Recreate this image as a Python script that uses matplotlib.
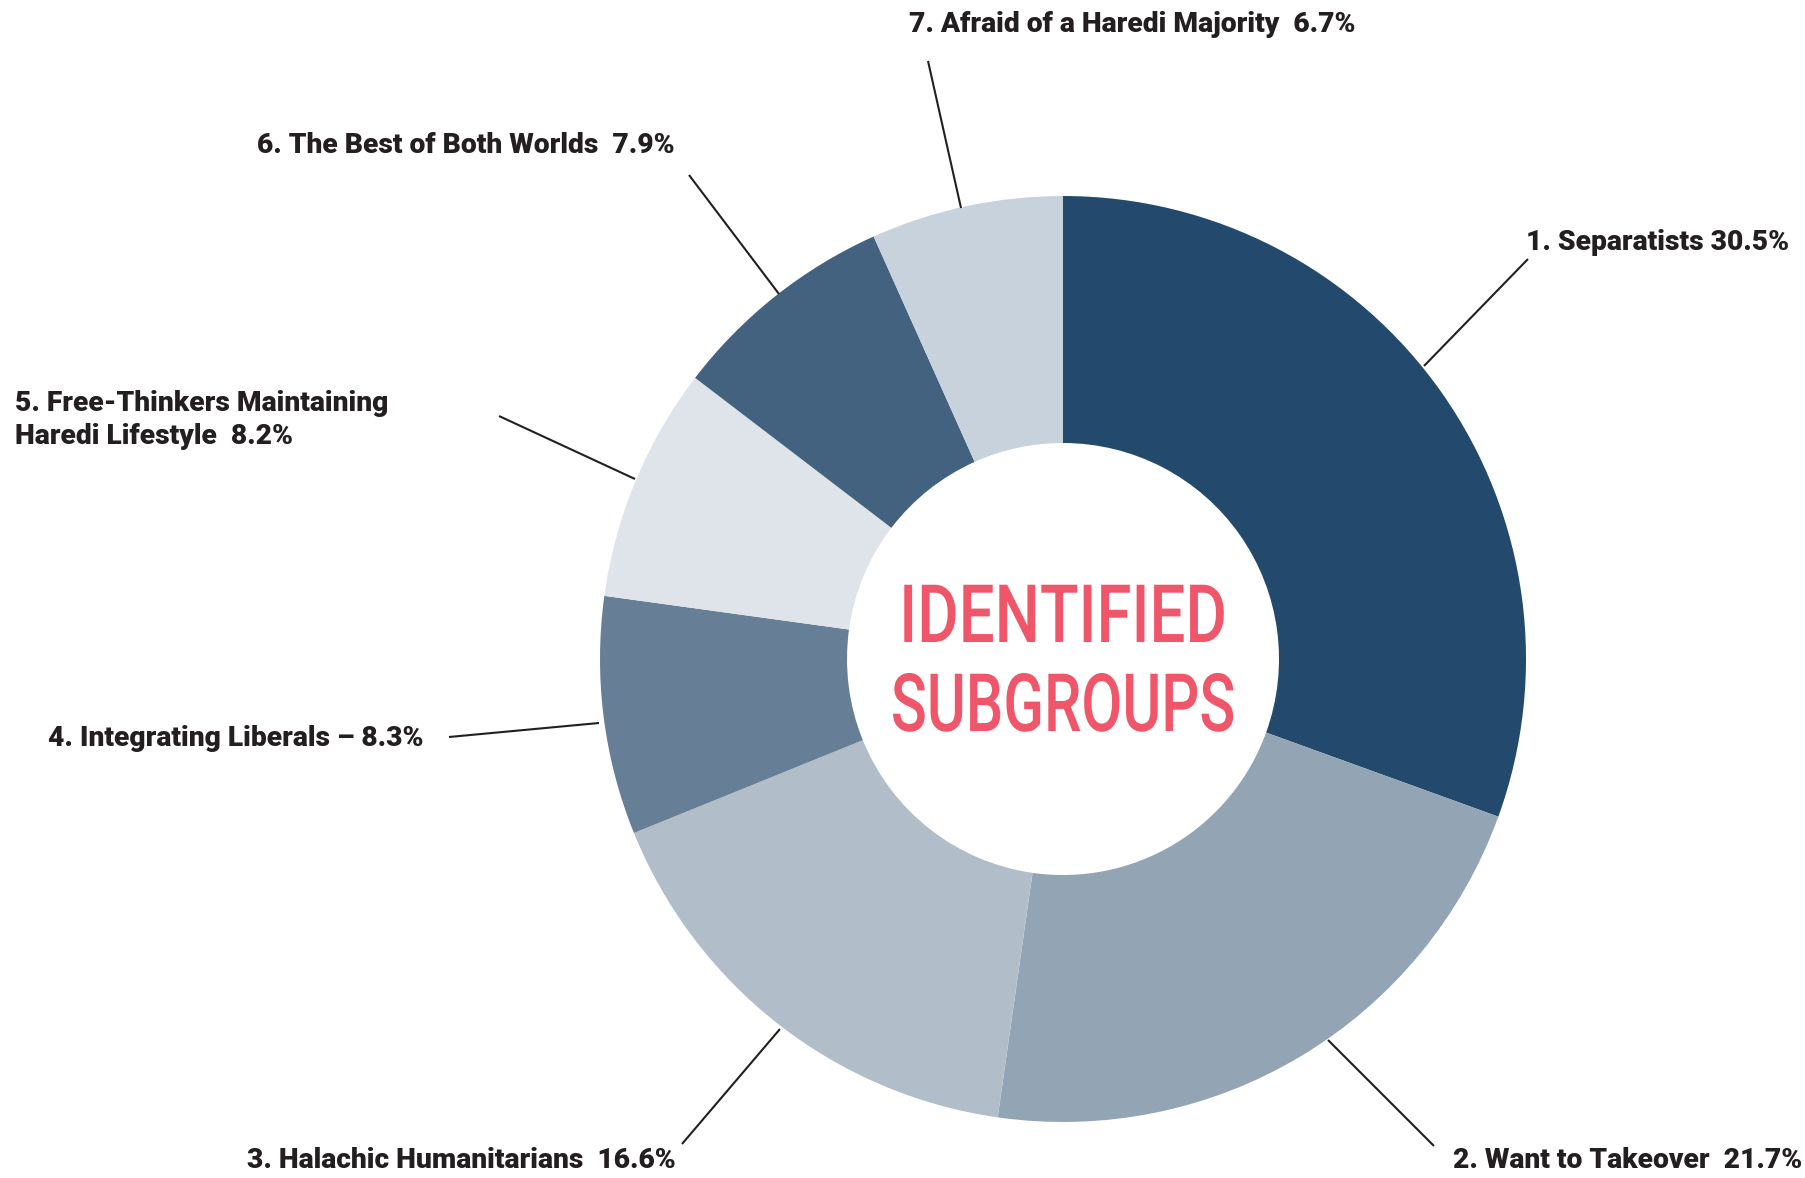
import numpy as np
import matplotlib.pyplot as plt
from matplotlib.patheffects import AbstractPathEffect
from matplotlib.transforms import Affine2D

# subgroups, clockwise from the top
names = ['1. Separatists', '2. Want to Takeover', '3. Halachic Humanitarians',
         '4. Integrating Liberals', '5. Free-Thinkers Maintaining\nHaredi Lifestyle',
         '6. The Best of Both Worlds', '7. Afraid of a Haredi Majority']
shares = [30.5, 21.7, 16.6, 8.3, 8.2, 7.9, 6.7]
seps = [' ', '  ', '  ', ' \u2013 ', '  ', '  ', '  ']
colors = ['#234a6d', '#93a5b5', '#b1bdc9', '#667f97', '#dfe4ea', '#43627f', '#c8d2dc']

W, H = 1806, 1178
cx, cy = 1063, H - 659
r_out, r_in = 463, 216

# leader line (start, end), text anchor, ha  -- pixel coords, y from top
layout = [
    ((1424, 366), (1528, 259), (1526, 242), 'left'),
    ((1328, 1040), (1434, 1146), (1453, 1161), 'left'),
    ((780, 1029), (682, 1144), (676, 1161), 'right'),
    ((599, 723), (449, 737), (424, 739), 'right'),
    ((635, 479), (499, 416), (15, 420), 'left'),
    ((779, 294), (689, 175), (675, 145), 'right'),
    ((961, 208), (928, 61), (909, 24), 'left'),
]


class Squeeze(AbstractPathEffect):
    # narrow the glyphs horizontally around a given x (display px)
    def __init__(self, x, sx):
        super().__init__()
        self.x, self.sx = x, sx

    def draw_path(self, renderer, gc, tpath, affine, rgbFace=None):
        t = affine + Affine2D().translate(-self.x, 0).scale(self.sx, 1).translate(self.x, 0)
        renderer.draw_path(gc, tpath, t, rgbFace)


fig = plt.figure(figsize=(W / 100, H / 100), dpi=100)
ax = fig.add_axes([0, 0, 1, 1])

wedges, _ = ax.pie(shares, colors=colors, startangle=90, counterclock=False,
                   center=(cx, cy), radius=r_out,
                   wedgeprops=dict(width=r_out - r_in, linewidth=0))
ax.set_xlim(0, W)
ax.set_ylim(0, H)
ax.set_aspect('equal')
ax.axis('off')

for name, s, sep, (l0, l1, tpos, ha) in zip(names, shares, seps, layout):
    ax.plot([l0[0], l1[0]], [H - l0[1], H - l1[1]], color='#231f20', lw=1.5,
            solid_capstyle='butt')
    ax.text(tpos[0], H - tpos[1], f'{name}{sep}{s}%', ha=ha, va='center',
            fontsize=20.3, fontweight='black', family=['Roboto', 'DejaVu Sans'],
            color='#231f20', linespacing=1.3)

px = ax.transData.transform((cx, 0))[0]
for txt, ty, sx in [('IDENTIFIED', 620, 0.79), ('SUBGROUPS', 709, 0.74)]:
    ax.text(cx, H - ty, txt, ha='center', va='center', fontsize=58,
            fontweight='medium', family=['Roboto', 'DejaVu Sans'], color='#f0566a',
            path_effects=[Squeeze(px, sx)])

fig.savefig('out.png', dpi=100, facecolor='white')
